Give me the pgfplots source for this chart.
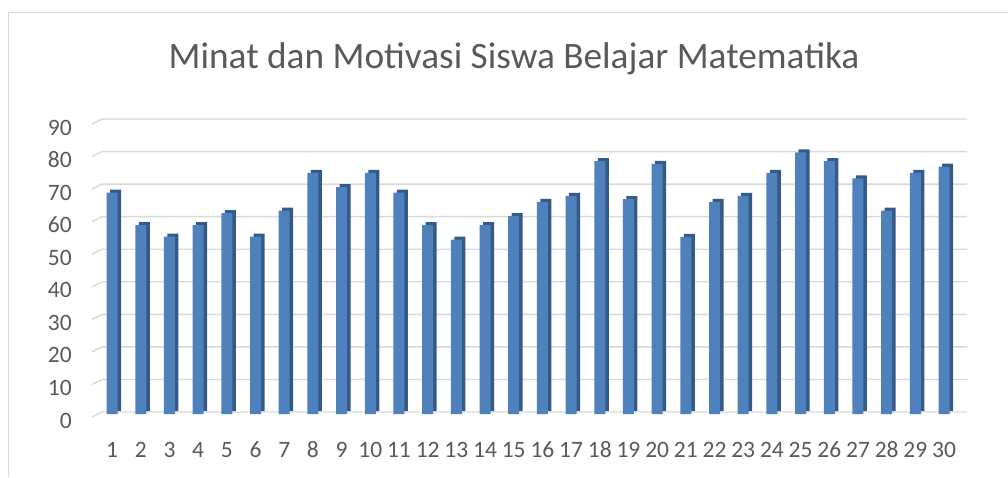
\documentclass[border=0pt]{standalone}
\usepackage{pgfplots}
\pgfplotsset{compat=1.18}
\usepackage{pgfplotstable}
\usepackage{fontspec}
\setmainfont{Carlito}
\definecolor{barfront}{HTML}{4F81BD}
\definecolor{barside}{HTML}{345A88}
\definecolor{gridc}{HTML}{D9D9D9}
\definecolor{txt}{HTML}{595959}
\pgfplotstableread{
x y
1 68
2 58
3 54.5
4 58
5 61.7
6 54.5
7 62.5
8 74.1
9 69.7
10 74.1
11 68
12 58
13 53.6
14 58
15 60.8
16 65.2
17 67
18 77.7
19 66
20 76.8
21 54.4
22 65.2
23 67
24 74.1
25 80.4
26 77.7
27 72.4
28 62.5
29 74.1
30 76
}\datatable
\begin{document}
\begin{tikzpicture}
\path[use as bounding box] (0pt,0pt) rectangle (1008pt,-477pt);
\draw[gridc, line width=1pt] (8pt,-477pt) -- (8pt,-12pt) -- (1008pt,-12pt);
\node[anchor=base, text=txt, font=\fontsize{37.3}{37.3}\selectfont, inner sep=0pt] at (514pt,-68.3pt) {Minat dan Motivasi Siswa Belajar Matematika};
\begin{axis}[
  at={(92pt,-412pt)}, anchor=south west,
  scale only axis, width=875pt, height=293pt,
  xmin=0.3, xmax=30.8, ymin=0, ymax=90,
  axis line style={draw=none},
  ytick={0,10,...,90},
  xtick={1,...,30},
  major tick length=0pt,
  /pgf/number format/assume math mode=true,
  ticklabel style={text=txt, font=\fontsize{23.5}{23.5}\selectfont, inner sep=0pt},
  yticklabel style={anchor=base east, xshift=-20pt, yshift=-16pt},
  xticklabel style={anchor=base, yshift=-45pt},
  clip=false,
]
\pgfplotsinvokeforeach{0,10,20,30,40,50,60,70,80,90}{
  \draw[gridc, line width=1.4pt] ([yshift=-5pt]axis cs:0.3,#1) -- ([xshift=10pt]axis cs:0.3,#1) -- (axis cs:30.8,#1);
}
\addplot[ybar, bar width=11pt, fill=barside, draw=none, xshift=3.5pt, yshift=1pt] table[x=x,y=y]{\datatable};
\addplot[ybar, bar width=11pt, fill=barfront, draw=none, yshift=-2pt] table[x=x,y=y]{\datatable};
\end{axis}
\end{tikzpicture}
\end{document}
